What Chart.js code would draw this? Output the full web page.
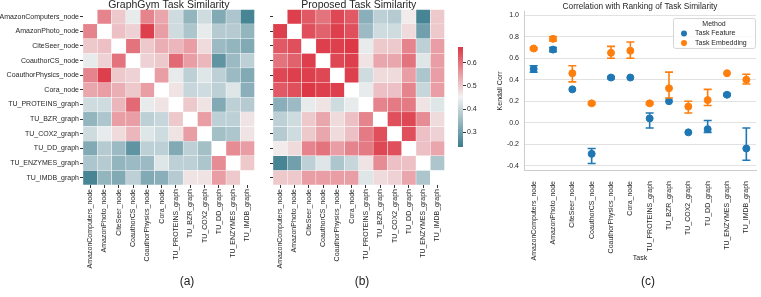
<!DOCTYPE html>
<html>
<head>
<meta charset="utf-8">
<script src="https://cdn.jsdelivr.net/npm/chart.js@4.4.1/dist/chart.umd.min.js"></script>
<style>
body { margin:0; width:761px; height:297px; background:#fff; position:relative; overflow:hidden; font-family:'Liberation Sans', Arial, sans-serif; }
canvas { position:absolute; }
.lab { position:absolute; top:274px; font-size:12px; color:#222; transform:translateX(-50%); }
</style>
</head>
<body>
<canvas id="gym" width="257" height="276" style="left:0;top:-1px"></canvas>
<canvas id="prop" width="185" height="276" style="left:262px;top:-1px"></canvas>
<canvas id="cbar" width="38" height="115" style="left:450px;top:40px"></canvas>
<canvas id="corr" width="271" height="266" style="left:490px;top:0"></canvas>
<div class="lab" style="left:187px">(a)</div>
<div class="lab" style="left:362px">(b)</div>
<div class="lab" style="left:648px">(c)</div>
<script>
var tasks = ['AmazonComputers_node', 'AmazonPhoto_node', 'CiteSeer_node', 'CoauthorCS_node',
  'CoauthorPhysics_node', 'Cora_node', 'TU_PROTEINS_graph', 'TU_BZR_graph', 'TU_COX2_graph',
  'TU_DD_graph', 'TU_ENZYMES_graph', 'TU_IMDB_graph'];

// similarity matrices, diagonal masked
var gymSim = [
  [null, 0.58, 0.50, 0.44, 0.58, 0.54, 0.41, 0.34, 0.41, 0.32, 0.37, 0.25],
  [0.58, null, 0.51, 0.49, 0.66, 0.55, 0.41, 0.37, 0.44, 0.38, 0.38, 0.34],
  [0.50, 0.51, null, 0.60, 0.50, 0.53, 0.52, 0.55, 0.48, 0.35, 0.34, 0.32],
  [0.44, 0.49, 0.60, null, 0.49, 0.50, 0.61, 0.55, 0.52, 0.28, 0.35, 0.39],
  [0.58, 0.66, 0.50, 0.49, null, 0.55, 0.44, 0.39, 0.43, 0.39, 0.35, 0.32],
  [0.54, 0.55, 0.53, 0.50, 0.55, null, 0.47, 0.40, 0.41, 0.39, 0.43, 0.33],
  [0.41, 0.41, 0.52, 0.61, 0.44, 0.47, null, 0.50, 0.47, 0.32, 0.39, 0.38],
  [0.34, 0.37, 0.55, 0.55, 0.39, 0.40, 0.50, null, 0.55, 0.39, 0.39, 0.47],
  [0.41, 0.44, 0.48, 0.52, 0.43, 0.41, 0.47, 0.55, null, 0.36, 0.37, 0.47],
  [0.32, 0.38, 0.35, 0.28, 0.39, 0.39, 0.32, 0.39, 0.36, null, 0.57, 0.55],
  [0.37, 0.38, 0.34, 0.35, 0.35, 0.43, 0.39, 0.39, 0.37, 0.57, null, 0.50],
  [0.25, 0.34, 0.32, 0.39, 0.32, 0.33, 0.38, 0.47, 0.47, 0.55, 0.50, null]
];
var propSim = [
  [null, 0.66, 0.63, 0.60, 0.65, 0.63, 0.33, 0.39, 0.38, 0.46, 0.25, 0.50],
  [0.66, null, 0.64, 0.62, 0.66, 0.64, 0.35, 0.41, 0.41, 0.48, 0.30, 0.50],
  [0.63, 0.64, null, 0.66, 0.66, 0.67, 0.44, 0.50, 0.50, 0.58, 0.39, 0.55],
  [0.60, 0.62, 0.66, null, 0.65, 0.66, 0.47, 0.54, 0.54, 0.60, 0.43, 0.55],
  [0.65, 0.66, 0.66, 0.65, null, 0.66, 0.41, 0.48, 0.48, 0.55, 0.37, 0.55],
  [0.63, 0.64, 0.67, 0.66, 0.66, null, 0.44, 0.51, 0.51, 0.58, 0.40, 0.55],
  [0.33, 0.35, 0.44, 0.47, 0.41, 0.44, null, 0.58, 0.59, 0.59, 0.47, 0.43],
  [0.39, 0.41, 0.50, 0.54, 0.48, 0.51, 0.58, null, 0.64, 0.65, 0.57, 0.48],
  [0.38, 0.41, 0.50, 0.54, 0.48, 0.51, 0.59, 0.64, null, 0.64, 0.51, 0.49],
  [0.46, 0.48, 0.58, 0.60, 0.55, 0.58, 0.59, 0.65, 0.64, null, 0.51, 0.54],
  [0.25, 0.30, 0.39, 0.43, 0.37, 0.40, 0.47, 0.57, 0.51, 0.51, null, 0.37],
  [0.50, 0.50, 0.55, 0.55, 0.55, 0.55, 0.43, 0.48, 0.49, 0.54, 0.37, null]
];
var cbarTicks = [0.3, 0.4, 0.5, 0.6];
var vmin = 0.236, vmax = 0.668;

// kendall corr, mean and error bar ends
var featMean = [0.50, 0.68, 0.31, -0.29, 0.42, 0.42, 0.04, 0.20, -0.09, -0.06, 0.26, -0.24];
var featLow  = [0.47, 0.66, 0.31, -0.38, 0.41, 0.42, -0.05, 0.20, -0.09, -0.09, 0.25, -0.35];
var featHigh = [0.53, 0.70, 0.31, -0.24, 0.43, 0.42, 0.09, 0.20, -0.09, 0.02, 0.27, -0.05];
var embMean  = [0.69, 0.78, 0.46, 0.18, 0.65, 0.67, 0.18, 0.32, 0.15, 0.21, 0.46, 0.40];
var embLow   = [0.68, 0.76, 0.38, 0.17, 0.60, 0.60, 0.17, 0.23, 0.09, 0.16, 0.46, 0.36];
var embHigh  = [0.70, 0.80, 0.53, 0.19, 0.71, 0.75, 0.19, 0.47, 0.20, 0.31, 0.46, 0.45];
var corrTicks = [-0.4, -0.2, 0.0, 0.2, 0.4, 0.6, 0.8, 1.0];

Chart.defaults.font.family = "'Liberation Sans', Arial, sans-serif";
Chart.defaults.color = '#262626';

var lowCol = [59, 124, 142], midCol = [242, 242, 242], highCol = [220, 56, 70];
function cmap(v) {
  var t = (v - vmin) / (vmax - vmin);
  t = Math.max(0, Math.min(1, t));
  var a, b, u;
  if (t < 0.5) { a = lowCol; b = midCol; u = t / 0.5; }
  else { a = midCol; b = highCol; u = (t - 0.5) / 0.5; }
  return 'rgb(' + Math.round(a[0] + (b[0] - a[0]) * u) + ',' + Math.round(a[1] + (b[1] - a[1]) * u) + ',' + Math.round(a[2] + (b[2] - a[2]) * u) + ')';
}

function makeHeat(id, matrix, title, showNames, yWidth) {
  var datasets = matrix.map(function(row, r) {
    return {
      label: tasks[r],
      data: row.map(function() { return 1; }),
      backgroundColor: row.map(function(v) { return v === null ? 'rgba(0,0,0,0)' : cmap(v); }),
      borderColor: 'rgba(255,255,255,0.9)',
      borderWidth: 0.5,
      categoryPercentage: 1,
      barPercentage: 1
    };
  });
  new Chart(document.getElementById(id), {
    type: 'bar',
    data: { labels: tasks, datasets: datasets },
    options: {
      responsive: false,
      animation: false,
      layout: { padding: 0 },
      plugins: {
        legend: { display: false },
        tooltip: { enabled: false },
        title: { display: true, text: title, fullSize: false, font: { size: 10.5, weight: 'normal', lineHeight: 0.8 },
          padding: { top: 2, bottom: 0 } }
      },
      scales: {
        x: {
          stacked: true,
          grid: { drawOnChartArea: false, offset: false, tickLength: 3, color: '#333' },
          border: { display: false },
          ticks: { autoSkip: false, minRotation: 90, maxRotation: 90, font: { size: 7 }, padding: 1 },
          afterFit: function(s) { s.height = 90; }
        },
        y: {
          stacked: true,
          reverse: true,
          min: 0,
          max: 12,
          grid: { drawOnChartArea: false, tickLength: 3, color: '#333' },
          border: { display: false },
          afterBuildTicks: function(s) { s.ticks = tasks.map(function(t, i) { return { value: i + 0.5 }; }); },
          ticks: { autoSkip: false, font: { size: 7 }, padding: 1,
            callback: function(v, i) { return showNames ? tasks[i] : ''; } },
          afterFit: function(s) { s.width = yWidth; }
        }
      }
    }
  });
}

makeHeat('gym', gymSim, 'GraphGym Task Similarity', true, 83);
makeHeat('prop', propSim, 'Proposed Task Similarity', false, 11);

new Chart(document.getElementById('cbar'), {
  type: 'bar',
  data: {
    labels: [''],
    datasets: [{
      data: [[vmin, vmax]],
      backgroundColor: function(c) {
        var ca = c.chart.chartArea;
        if (!ca) return 'rgb(242,242,242)';
        var g = c.chart.ctx.createLinearGradient(0, ca.bottom, 0, ca.top);
        for (var i = 0; i <= 20; i++) g.addColorStop(i / 20, cmap(vmin + (vmax - vmin) * i / 20));
        return g;
      },
      borderWidth: 0,
      categoryPercentage: 1,
      barPercentage: 1
    }]
  },
  options: {
    responsive: false,
    animation: false,
    layout: { padding: { left: 8, top: 7, bottom: 8, right: 0 } },
    plugins: { legend: { display: false }, tooltip: { enabled: false } },
    scales: {
      x: { display: false },
      y: {
        position: 'right',
        min: vmin,
        max: vmax,
        afterBuildTicks: function(s) { s.ticks = cbarTicks.map(function(v) { return { value: v }; }); },
        grid: { drawOnChartArea: false, tickLength: 3, color: '#333' },
        border: { display: false },
        ticks: { font: { size: 7 }, padding: 1, callback: function(v) { return v.toFixed(1); } },
        afterFit: function(s) { s.width = 25; }
      }
    }
  }
});

var errorBars = {
  id: 'errorBars',
  afterDatasetsDraw: function(chart) {
    var ctx = chart.ctx, ys = chart.scales.y;
    chart.data.datasets.forEach(function(ds, i) {
      var meta = chart.getDatasetMeta(i);
      ctx.save();
      ctx.strokeStyle = ds.borderColor;
      ctx.lineWidth = 1.6;
      meta.data.forEach(function(pt, j) {
        var lo = ds.errLow[j], hi = ds.errHigh[j];
        if (hi - lo < 0.005) return;
        var y1 = ys.getPixelForValue(lo), y2 = ys.getPixelForValue(hi);
        ctx.beginPath();
        ctx.moveTo(pt.x, y1); ctx.lineTo(pt.x, y2);
        ctx.moveTo(pt.x - 4, y1); ctx.lineTo(pt.x + 4, y1);
        ctx.moveTo(pt.x - 4, y2); ctx.lineTo(pt.x + 4, y2);
        ctx.stroke();
      });
      ctx.restore();
    });
  }
};

// seaborn style legend box in the upper right corner of the plot
var methodLegend = {
  id: 'methodLegend',
  afterDraw: function(chart) {
    var ctx = chart.ctx, ca = chart.chartArea;
    var w = 82, h = 30, x = ca.right - w - 1, y = ca.top + 6;
    ctx.save();
    ctx.fillStyle = 'rgba(255,255,255,0.8)';
    ctx.strokeStyle = '#cccccc';
    ctx.lineWidth = 0.8;
    ctx.beginPath();
    ctx.roundRect(x + 0.5, y + 0.5, w, h, 2);
    ctx.fill();
    ctx.stroke();
    ctx.fillStyle = '#262626';
    ctx.font = "7px 'Liberation Sans', Arial, sans-serif";
    ctx.textAlign = 'center';
    ctx.textBaseline = 'middle';
    ctx.fillText('Method', x + w / 2, y + 6);
    ctx.textAlign = 'left';
    chart.data.datasets.forEach(function(ds, i) {
      var yy = y + 15.5 + i * 9.5;
      ctx.fillStyle = ds.backgroundColor;
      ctx.beginPath();
      ctx.arc(x + 11, yy, 3, 0, Math.PI * 2);
      ctx.fill();
      ctx.fillStyle = '#262626';
      ctx.fillText(ds.label, x + 22, yy);
    });
    ctx.restore();
  }
};

new Chart(document.getElementById('corr'), {
  type: 'line',
  data: {
    labels: tasks,
    datasets: [
      { label: 'Task Feature', data: featMean, errLow: featLow, errHigh: featHigh, showLine: false,
        pointRadius: 3.5, backgroundColor: '#1f77b4', borderColor: '#1f77b4' },
      { label: 'Task Embedding', data: embMean, errLow: embLow, errHigh: embHigh, showLine: false,
        pointRadius: 3.5, backgroundColor: '#ff7f0e', borderColor: '#ff7f0e' }
    ]
  },
  options: {
    responsive: false,
    animation: false,
    layout: { padding: { right: 4 } },
    plugins: {
      tooltip: { enabled: false },
      legend: { display: false },
      title: { display: true, text: 'Correlation with Ranking of Task Similarity', fullSize: false,
        font: { size: 8.3, weight: 'normal', lineHeight: 1.2 }, padding: { top: 2, bottom: 0 } }
    },
    scales: {
      x: {
        offset: true,
        grid: { display: false },
        border: { display: true, color: '#cccccc' },
        ticks: { autoSkip: false, minRotation: 90, maxRotation: 90, font: { size: 7 }, padding: 3 },
        title: { display: true, text: 'Task', font: { size: 7 } },
        afterFit: function(s) { s.height = 96; }
      },
      y: {
        min: -0.44,
        max: 1.03,
        afterBuildTicks: function(s) { s.ticks = corrTicks.map(function(v) { return { value: v }; }); },
        grid: { color: '#e2e2e2', drawTicks: false },
        border: { color: '#cccccc' },
        ticks: { font: { size: 7 }, padding: 5, callback: function(v) { return v.toFixed(1); } },
        title: { display: true, text: 'Kendall Corr', font: { size: 7 }, padding: { top: 6, bottom: 0 } },
        afterFit: function(s) { s.width = 34; }
      }
    }
  },
  plugins: [errorBars, methodLegend]
});
</script>
</body>
</html>
